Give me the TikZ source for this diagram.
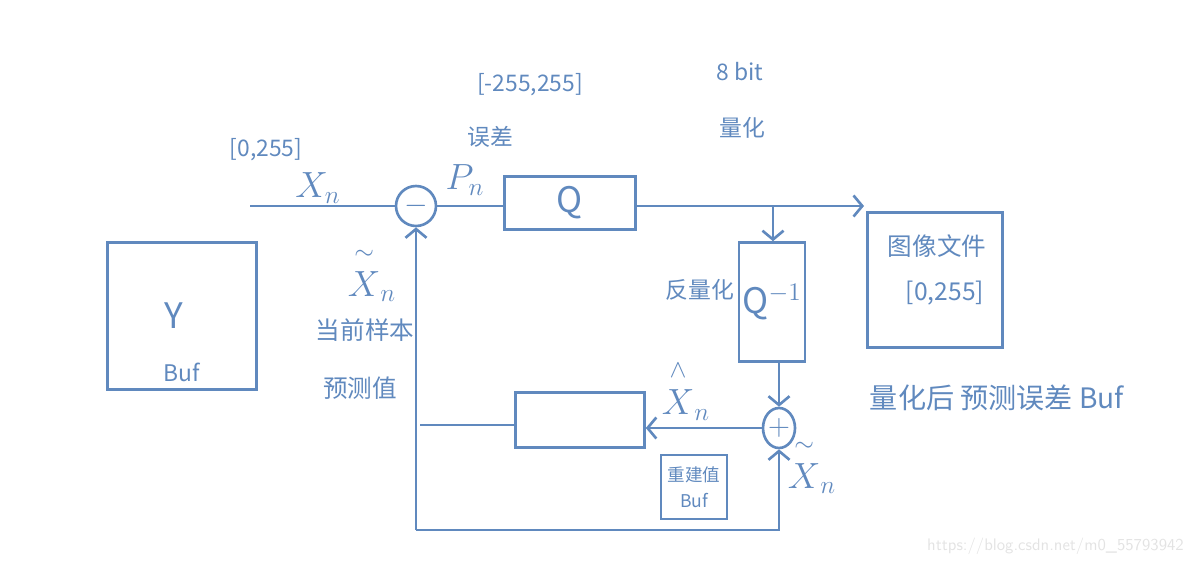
\documentclass[tikz,border=0pt]{standalone}
\usepackage{fontspec}
\usepackage{amsmath}
\newfontfamily\cjk{Noto Sans CJK SC}
\usetikzlibrary{positioning,shapes.geometric,arrows.meta}
\definecolor{penblue}{RGB}{96,137,190}
\newcommand{\tildeX}{\overset{\raisebox{3pt}{$\scriptstyle\sim$}}{X}}
\newcommand{\hatX}{\overset{\raisebox{3pt}{$\scriptstyle\wedge$}}{X}}

\begin{document}
\begin{tikzpicture}[
    x=0.02cm, y=-0.02cm,
    line/.style={draw=penblue, line width=1.5pt},
    arrow/.style={draw=penblue, line width=1.5pt, -{Straight Barb[length=5pt,width=12pt]}},
    block/.style={draw=penblue, line width=1.5pt, inner sep=0pt, text=penblue},
    txt/.style={text=penblue, font=\cjk\fontsize{13}{16}\selectfont, align=center, inner sep=1pt},
    bigtxt/.style={text=penblue, font=\cjk\fontsize{16}{19}\selectfont, inner sep=1pt},
    sym/.style={text=penblue, font=\fontsize{20}{24}\selectfont, inner sep=1pt}
]
    \useasboundingbox (0,0) rectangle (1199,565);

    % Buffers and blocks
    \node[block, minimum width=2.98cm, minimum height=2.94cm] (ybuf) at (182,316) {};
    \node[sym] (ylab) at (174,316) {\cjk Y};
    \node[txt, above=4pt of ybuf.south] (ybuflab) {Buf};

    \node[block, circle, minimum size=0.8cm] (minus) at (416,206) {\fontsize{18}{20}\selectfont$-$};
    \node[block, minimum width=2.62cm, minimum height=1.06cm] (qbox) at (570,203) {\fontsize{20}{24}\selectfont\cjk Q};
    \node[block, minimum width=1.32cm, minimum height=2.38cm] (qinv) at (772,302) {\fontsize{20}{24}\selectfont\cjk Q$^{-1}$};
    \node[block, minimum width=2.7cm, minimum height=2.7cm] (imgfile) at (935,280) {};
    \node[block, ellipse, minimum width=0.64cm, minimum height=0.8cm] (plus) at (779,428) {\fontsize{18}{20}\selectfont$+$};
    \node[block, minimum width=2.58cm, minimum height=1.1cm] (pred) at (580,420) {};
    \node[block, minimum width=1.32cm, minimum height=1.28cm, font=\cjk\fontsize{10}{13}\selectfont, align=center] (recbuf) at (694,487) {重建值\\[2pt]Buf};

    % Free ends of the connectors
    \coordinate (in) at (250,206);
    \coordinate (out) at (864,206);
    \coordinate (tap) at (773,206);
    \coordinate (fbk) at (420,425);
    \coordinate (bl) at (416,530);

    % Connectors
    \draw[line] (in) -- (minus);
    \draw[line] (minus.east) -- (minus.east -| qbox.west);
    \draw[arrow] (qbox.east |- out) -- (out);
    \draw[arrow] (tap) -- (tap |- qinv.north);
    \draw[arrow] (plus |- qinv.south) -- (plus);
    \draw[arrow] (plus) -- (plus -| pred.east);
    \draw[line] (pred.west |- fbk) -- (fbk);
    \draw[arrow] (bl) -- (minus);
    \draw[arrow] (bl) -- (bl -| plus) -- (plus);

    % Labels
    \node[txt] (inrange) at (266,150) {[0,255]};
    \node[sym] (xn) at (318,188) {$X_n$};
    \node[sym] (pn) at (465,180) {$P_n$};
    \node[txt] (err) at (490,137) {误差};
    \node[txt] (errrange) at (530,85) {[-255,255]};
    \node[txt] (bits) at (740,72) {8 bit};
    \node[txt] (quant) at (742,128) {量化};
    \node[txt] (dequant) at (700,290) {反量化};
    \node[txt, font=\cjk\fontsize{14}{18}\selectfont] (imglab) at (937,246) {图像文件};
    \node[txt, font=\cjk\fontsize{14}{18}\selectfont] (imgrange) at (945,293) {[0,255]};
    \node[bigtxt] (errbuf) at (997,398) {量化后 预测误差 Buf};
    \node[sym] (predx) at (372,274) {$\tildeX_n$};
    \node[txt, font=\cjk\fontsize{14}{18}\selectfont] (cur) at (365,330) {当前样本};
    \node[txt, font=\cjk\fontsize{14}{18}\selectfont] (predv) at (360,388) {预测值};
    \node[sym] (hatx) at (686,390) {$\hatX_n$};
    \node[sym] (predx2) at (812,466) {$\tildeX_n$};

    % Watermark
    \node[text=gray!22, font=\sffamily\fontsize{9.5}{12}\selectfont, anchor=east] (mark) at (1190,546) {https://blog.csdn.net/m0\_55793942};
\end{tikzpicture}
\end{document}
